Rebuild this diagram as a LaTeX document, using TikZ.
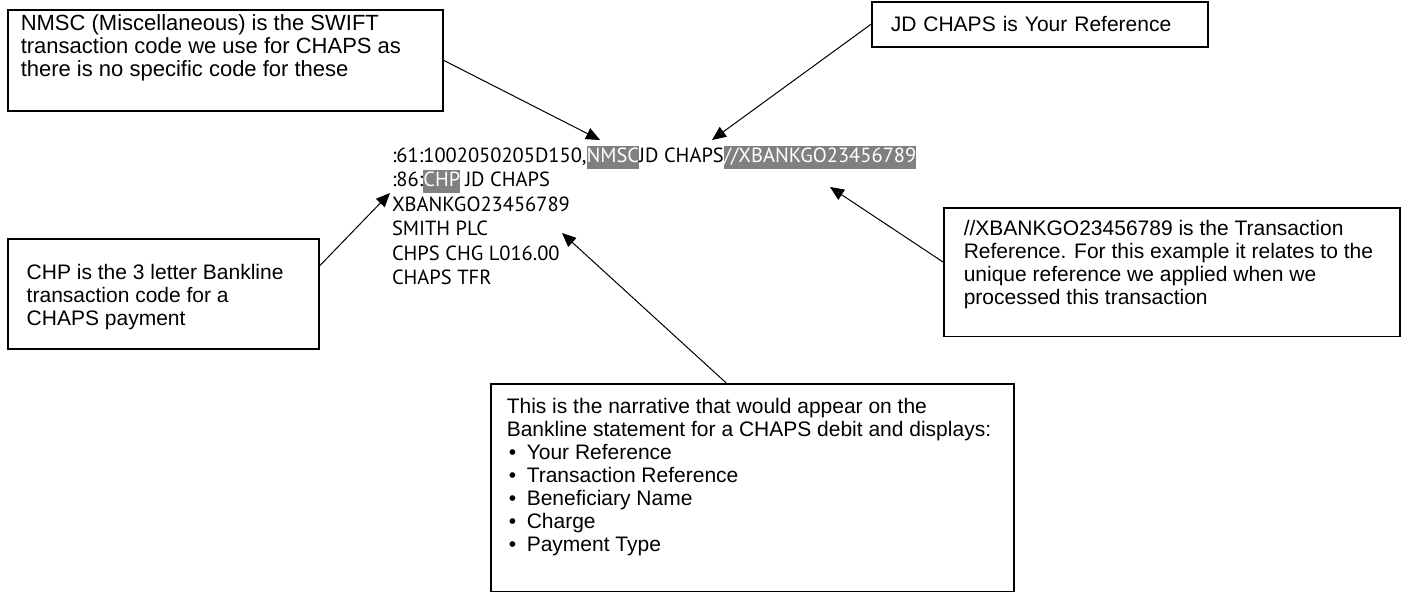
\documentclass[tikz,border=0pt]{standalone}
\usepackage{fontspec}
\setmainfont{Liberation Sans}
\newfontfamily\msgfont{PT Sans}
\usepackage{tikz}
\usetikzlibrary{positioning,arrows.meta}
\definecolor{hlgray}{RGB}{128,128,128}
\newcommand{\boxtext}[3]{\parbox[c][#2][t]{#1}{\raggedright\strut #3}}
\newcommand{\bul}{\hspace*{2pt}\makebox[18pt][l]{\textbullet}}
\tikzset{
  callout/.style={draw, line width=1.5pt, anchor=north west, inner xsep=19pt,
    font=\fontsize{21}{23}\selectfont},
  msgtxt/.style={inner sep=0pt, outer sep=0pt, anchor=west, text height=17pt, text depth=6pt,
    font=\msgfont\fontsize{20.5}{24}\selectfont},
  hltxt/.style={msgtxt, fill=hlgray, text=white},
  arr/.style={draw, line width=1pt, -{Triangle[length=14pt,width=12pt]}}
}

\begin{document}
\begin{tikzpicture}[x=1pt,y=-1pt]
\useasboundingbox (0,0) rectangle (1406,592);

% the statement lines
\node [msgtxt] (l1a) at (392,157) {:61:1002050205D150,};
\node [hltxt, right=0pt of l1a] (nmsc) {NMSC};
\node [msgtxt, right=0pt of nmsc] (l1b) {JD CHAPS};
\node [hltxt, right=0pt of l1b] (xref) {//XBANKGO23456789};
\node [msgtxt] (l2a) at (392,181) {:86:};
\node [hltxt, right=0pt of l2a] (chp) {CHP};
\node [msgtxt, right=5pt of chp] (l2b) {JD CHAPS};
\node [msgtxt] (l3) at (392,206) {XBANKGO23456789};
\node [msgtxt] (l4) at (392,230) {SMITH PLC};
\node [msgtxt] (l5) at (392,255) {CHPS CHG L016.00};
\node [msgtxt] (l6) at (392,279) {CHAPS TFR};

% callouts
\node [callout, inner xsep=13pt, inner ysep=4.5pt, font=\fontsize{22}{23}\selectfont] (swift) at (7,9)
  {\boxtext{409pt}{92pt}{NMSC (Miscellaneous) is the SWIFT\\transaction code we use for CHAPS as\\there is no specific code for these}};
\node [callout, text width=298pt, minimum height=45pt, inner ysep=0pt] (yourref) at (871,1)
  {JD CHAPS is Your Reference};
\node [callout, inner ysep=25pt] (bankline) at (7,238)
  {\boxtext{273pt}{60pt}{CHP is the 3 letter Bankline\\transaction code for a\\CHAPS payment}};
\node [callout, inner xsep=20pt, inner ysep=11.4pt] (txnref) at (943,207)
  {\boxtext{416pt}{106pt}{//XBANKGO23456789 is the Transaction\\Reference. For this example it relates to the\\unique reference we applied when we\\processed this transaction}};
\node [callout, inner xsep=16pt, inner ysep=13.4pt] (narr) at (490,383)
  {\boxtext{491pt}{181pt}{This is the narrative that would appear on the\\Bankline statement for a CHAPS debit and displays:\\
  \bul Your Reference\\ \bul Transaction Reference\\ \bul Beneficiary Name\\ \bul Charge\\ \bul Payment Type}};

% arrow tips
\coordinate (tipnmsc) at (600,140);
\coordinate (tipref) at (712,140);
\coordinate (tipchp) at (390,193);
\coordinate (tipxref) at (830,187);
\coordinate (tipnarr) at (562,233);

\draw [arr] (swift.east) -- (tipnmsc);
\draw [arr] (yourref.west) -- (tipref);
\draw [arr] ([yshift=-28pt]bankline.north east) -- (tipchp);
\draw [arr] ([yshift=-55pt]txnref.north west) -- (tipxref);
\draw [arr] ([xshift=-26pt]narr.north) -- (tipnarr);
\end{tikzpicture}
\end{document}
